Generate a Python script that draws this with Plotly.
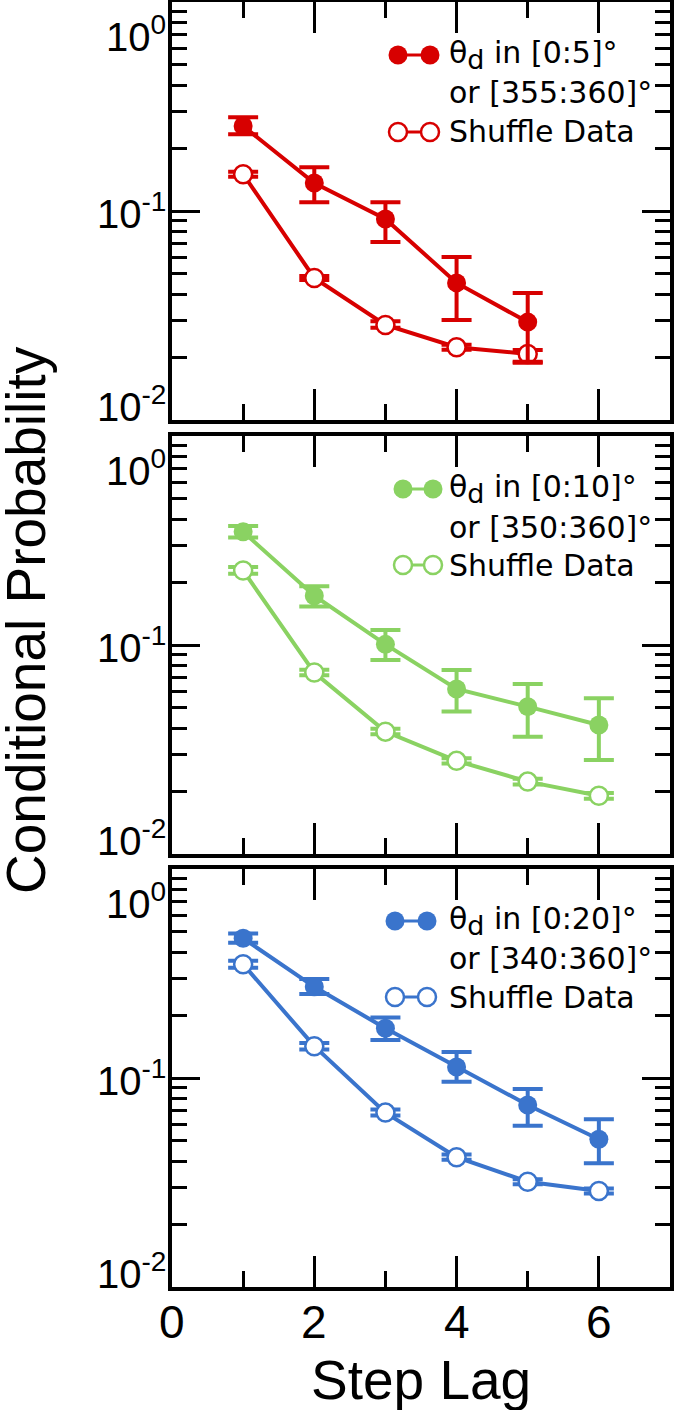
import plotly.graph_objects as go
import math

# ---------------- data ----------------
step_lag_red = [1, 2, 3, 4, 5]
red_mean = [0.255, 0.136, 0.0916, 0.0453, 0.0294]
red_upper = [0.281, 0.162, 0.110, 0.0603, 0.0405]
red_lower = [0.233, 0.110, 0.0711, 0.0301, 0.0190]
red_shuffle = [0.150, 0.0478, 0.0285, 0.0223, 0.0207]
red_shuffle_upper = [0.154, 0.0488, 0.0297, 0.0229, 0.0216]
red_shuffle_lower = [0.146, 0.0468, 0.0276, 0.0217, 0.0188]

step_lag_green = [1, 2, 3, 4, 5, 6]
green_mean = [0.348, 0.172, 0.1007, 0.0616, 0.0507, 0.0414]
green_upper = [0.371, 0.191, 0.118, 0.0759, 0.0651, 0.0556]
green_lower = [0.327, 0.153, 0.0848, 0.0480, 0.0364, 0.0282]
green_shuffle = [0.227, 0.0738, 0.0385, 0.0279, 0.0222, 0.0190]
green_shuffle_upper = [0.236, 0.0762, 0.0397, 0.0287, 0.0229, 0.0196]
green_shuffle_lower = [0.219, 0.0716, 0.0374, 0.0271, 0.0215, 0.0184]

step_lag_blue = [1, 2, 3, 4, 5, 6]
blue_mean = [0.466, 0.273, 0.173, 0.113, 0.0743, 0.0509]
blue_upper = [0.492, 0.298, 0.195, 0.133, 0.0886, 0.0634]
blue_lower = [0.444, 0.252, 0.152, 0.0960, 0.0591, 0.0391]
blue_shuffle = [0.350, 0.142, 0.0683, 0.0418, 0.0319, 0.0288]
blue_shuffle_upper = [0.364, 0.147, 0.0706, 0.0430, 0.0328, 0.0296]
blue_shuffle_lower = [0.337, 0.137, 0.0661, 0.0406, 0.0310, 0.0280]

legend_line1 = [
    "θ<sub><span style='font-size:27px'>d</span></sub> in [0:5]°",
    "θ<sub><span style='font-size:27px'>d</span></sub> in [0:10]°",
    "θ<sub><span style='font-size:27px'>d</span></sub> in [0:20]°",
]
legend_line2 = ["or [355:360]°", "or [350:360]°", "or [340:360]°"]
legend_shuffle = "Shuffle Data"

y_tick_vals = [1, 0.1, 0.01]
y_tick_labels = ["10<sup>0</sup>", "10<sup>-1</sup>", "10<sup>-2</sup>"]
y_minor_vals = [k * 10.0 ** e for e in (-2, -1) for k in range(2, 10)]
x_tick_labels = ["0", "2", "4", "6"]
x_tick_vals = [0, 2, 4, 6]

x_title = "Step Lag"
y_title = "Conditional Probability"

colors = ["#d70000", "#8ad262", "#3a74cc"]

# ---------------- layout geometry ----------------
W, H = 675, 1410
ML, MR, MT, MB = 172, 5, 2, 123
PW = W - ML - MR
PH = H - MT - MB
panel_px = [(2, 420), (436, 854), (869, 1287)]  # (top, bottom) in pixels


def px_x(px):
    return (px - ML) / PW


def px_y(py):
    return (H - MB - py) / PH


AXFONT = "Liberation Sans, Arial, Helvetica, sans-serif"
LEGFONT = "DejaVu Sans, Verdana, sans-serif"

fig = go.Figure()

panels = [
    (step_lag_red, red_mean, red_upper, red_lower, red_shuffle, red_shuffle_upper, red_shuffle_lower),
    (step_lag_green, green_mean, green_upper, green_lower, green_shuffle, green_shuffle_upper, green_shuffle_lower),
    (step_lag_blue, blue_mean, blue_upper, blue_lower, blue_shuffle, blue_shuffle_upper, blue_shuffle_lower),
]

for i, (xs, m, up, lo, sm, sup, slo) in enumerate(panels):
    c = colors[i]
    xa = "x" if i == 0 else f"x{i+1}"
    ya = "y" if i == 0 else f"y{i+1}"
    fig.add_trace(go.Scatter(
        x=xs, y=sm, xaxis=xa, yaxis=ya, mode="lines+markers",
        line=dict(color=c, width=4),
        marker=dict(size=18, color="white", line=dict(color=c, width=2.5), symbol="circle"),
        error_y=dict(type="data", symmetric=False,
                     array=[u - v for u, v in zip(sup, sm)],
                     arrayminus=[v - l for v, l in zip(sm, slo)],
                     color=c, thickness=4, width=15),
        showlegend=False, hoverinfo="skip"))
    fig.add_trace(go.Scatter(
        x=xs, y=m, xaxis=xa, yaxis=ya, mode="lines+markers",
        line=dict(color=c, width=4),
        marker=dict(size=19, color=c, symbol="circle"),
        error_y=dict(type="data", symmetric=False,
                     array=[u - v for u, v in zip(up, m)],
                     arrayminus=[v - l for v, l in zip(m, lo)],
                     color=c, thickness=4, width=15),
        showlegend=False, hoverinfo="skip"))

layout = dict(
    width=W, height=H,
    margin=dict(l=ML, r=MR, t=MT, b=MB, autoexpand=False),
    paper_bgcolor="white", plot_bgcolor="white",
    showlegend=False,
)

for i, (top, bot) in enumerate(panel_px):
    xkey = "xaxis" if i == 0 else f"xaxis{i+1}"
    ykey = "yaxis" if i == 0 else f"yaxis{i+1}"
    ya = "y" if i == 0 else f"y{i+1}"
    xa = "x" if i == 0 else f"x{i+1}"
    layout[xkey] = dict(
        domain=[0, 1], anchor=ya, range=[0, 7],
        tickmode="array", tickvals=x_tick_vals,
        ticks="inside", ticklen=31, tickwidth=3, tickcolor="black",
        minor=dict(dtick=1, tick0=0, ticks="inside", ticklen=16, tickwidth=3, tickcolor="black"),
        showline=True, linewidth=4, linecolor="black", mirror="ticks",
        showgrid=False, zeroline=False, showticklabels=False,
    )
    layout[ykey] = dict(
        domain=[px_y(bot), px_y(top)], anchor=xa, type="log", range=[-2, 0],
        tickmode="array", tickvals=y_tick_vals,
        ticks="inside", ticklen=28, tickwidth=3, tickcolor="black",
        minor=dict(tickmode="array", tickvals=y_minor_vals, ticks="inside",
                   ticklen=15, tickwidth=3, tickcolor="black"),
        showline=True, linewidth=4, linecolor="black", mirror="ticks",
        showgrid=False, zeroline=False, showticklabels=False,
    )

fig.update_layout(**layout)

annotations = []
shapes = []
label_shift = [-32, 0, 16]
for i in range(3):
    ya = "y" if i == 0 else f"y{i+1}"
    for v, t, s in zip(y_tick_vals, y_tick_labels, label_shift):
        annotations.append(dict(
            x=px_x(168), xref="paper", y=math.log10(v), yref=ya,
            yshift=s, text=t, showarrow=False, xanchor="right", yanchor="middle",
            font=dict(family=AXFONT, size=40, color="black")))

# x tick labels on the bottom panel
for v, t in zip(x_tick_vals, x_tick_labels):
    annotations.append(dict(
        x=v, xref="x3", y=px_y(1322), yref="paper", text=t,
        showarrow=False, xanchor="center", yanchor="middle",
        font=dict(family=AXFONT, size=46, color="black")))

# legends
leg_rows = [(55, 93, 132), (489, 527, 565), (921, 958, 997)]
leg_cx = [(398, 430), (403, 433), (395, 427)]
for i in range(3):
    c = colors[i]
    r1, r2, r3 = leg_rows[i]
    cx1, cx2 = leg_cx[i]
    for row, filled in ((r1, True), (r3, False)):
        shapes.append(dict(type="line", xref="paper", yref="paper",
                           x0=px_x(cx1), x1=px_x(cx2), y0=px_y(row), y1=px_y(row),
                           line=dict(color=c, width=3)))
        for cx in (cx1, cx2):
            rr = 9.5 if filled else 9
            shapes.append(dict(type="circle", xref="paper", yref="paper",
                               xsizemode="pixel", ysizemode="pixel",
                               xanchor=px_x(cx), yanchor=px_y(row),
                               x0=-rr, x1=rr, y0=-rr, y1=rr,
                               fillcolor=c if filled else "white",
                               line=dict(color=c, width=0 if filled else 2.5)))
    for row, txt in ((r1, legend_line1[i]), (r2, legend_line2[i]), (r3, legend_shuffle)):
        annotations.append(dict(
            x=px_x(447), xref="paper", y=px_y(row), yref="paper",
            text=txt, showarrow=False, xanchor="left", yanchor="middle",
            font=dict(family=LEGFONT, size=30, color="black")))

annotations.append(dict(
    x=px_x(421), xref="paper", y=px_y(1380), yref="paper", text=x_title,
    showarrow=False, xanchor="center", yanchor="middle",
    font=dict(family=AXFONT, size=55, color="black")))
annotations.append(dict(
    x=px_x(26), xref="paper", y=px_y(620), yref="paper", text=y_title,
    showarrow=False, xanchor="center", yanchor="middle", textangle=-90,
    font=dict(family=AXFONT, size=55, color="black")))

fig.update_layout(annotations=annotations, shapes=shapes)
fig.write_html("out.html", config={"displayModeBar": False, "staticPlot": True})

# remove the browser's default page margin so the figure sits at the top-left corner
with open("out.html", "r", encoding="utf-8") as f:
    html = f.read()
html = html.replace("<body>", "<body style=\"margin:0;padding:0;overflow:hidden\">", 1)
html = html.replace("<head>", "<head><style>html,body{margin:0;padding:0;}</style>", 1)
with open("out.html", "w", encoding="utf-8") as f:
    f.write(html)
